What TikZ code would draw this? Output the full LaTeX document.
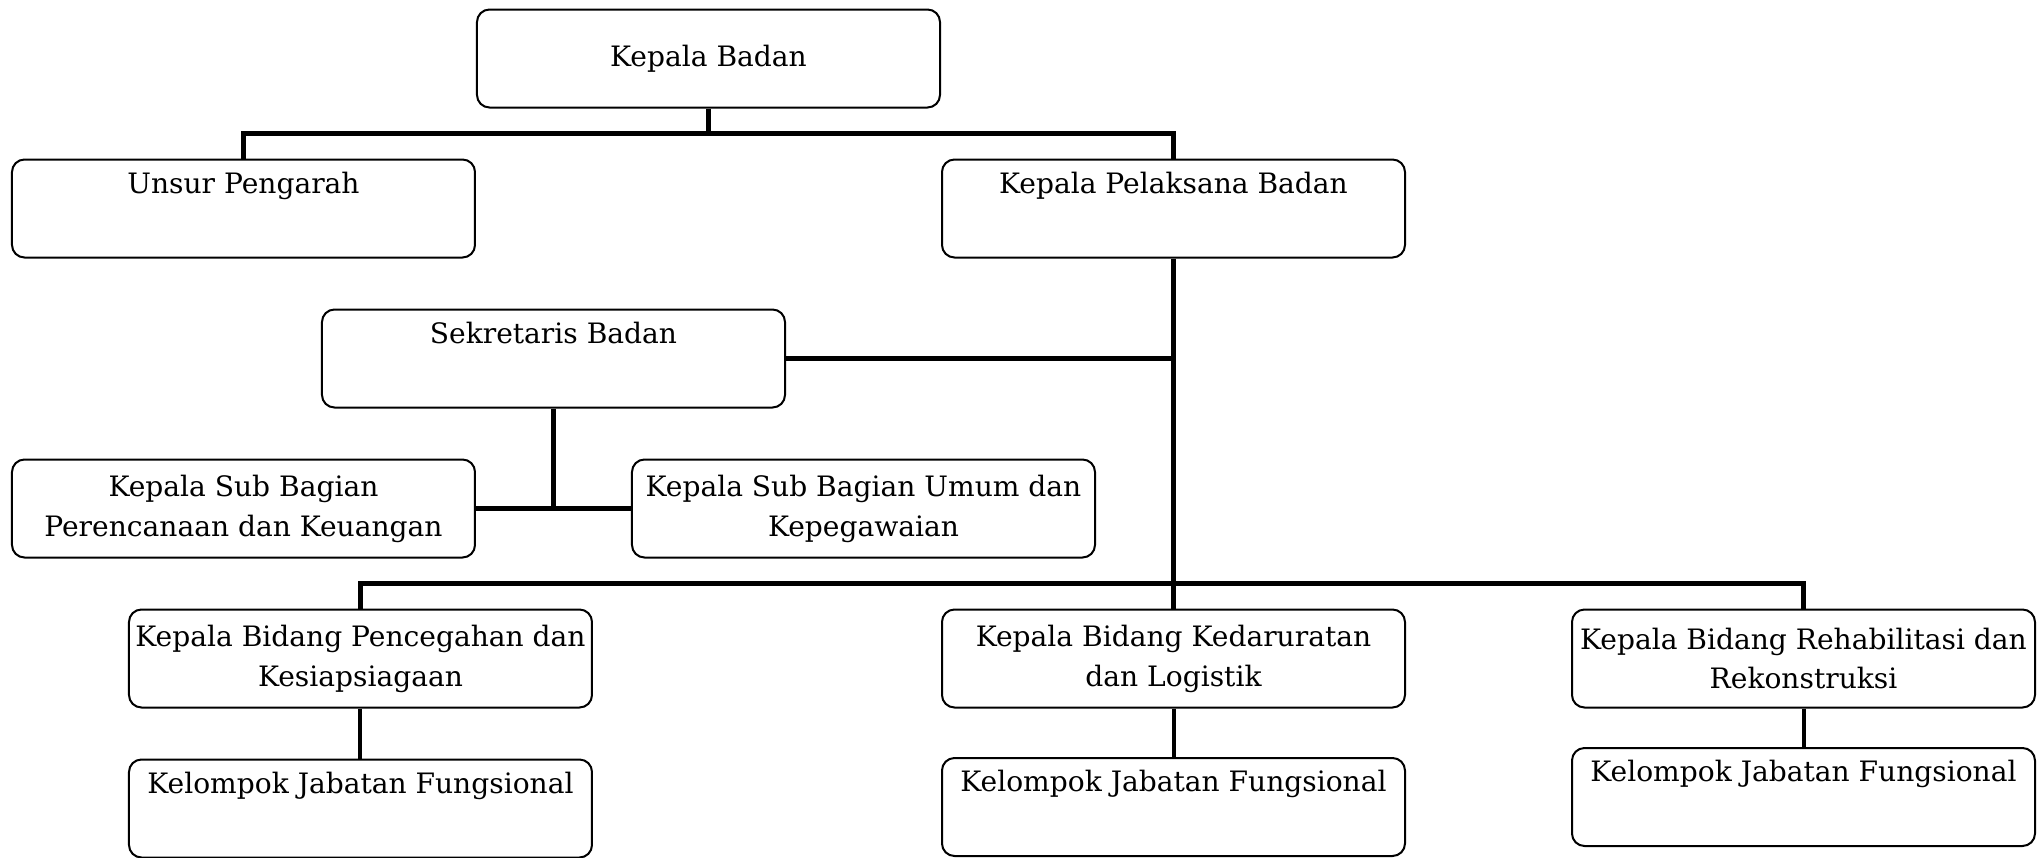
\documentclass[tikz,border=0pt]{standalone}
\usepackage{fontspec}
\setmainfont{DejaVu Serif}
\usepackage{tikz}
\usetikzlibrary{positioning}

\begin{document}
\begin{tikzpicture}[
    node distance=10mm and 0mm,
    unit/.style={draw, rounded corners=2.5mm, line width=0.4mm, minimum width=92.6mm, minimum height=19.6mm, align=center, inner sep=1mm, font=\fontsize{16}{22.7}\selectfont},
    conn/.style={line width=1mm},
    sub/.style={line width=0.8mm}
]
\useasboundingbox (-141.7mm,11.7mm) rectangle (266.5mm,-159.7mm);

\node[unit] (kb) at (0,0) {Kepala Badan};
\node[unit, below left=of kb] (up) {Unsur Pengarah\\\strut};
\node[unit, below right=of kb] (kpb) {Kepala Pelaksana Badan\\\strut};
\node[unit, below left=10mm and 31mm of kpb] (sek) {Sekretaris Badan\\\strut};
\node[unit, below=40mm of up] (sbp) {Kepala Sub Bagian\\Perencanaan dan Keuangan};
\node[unit, right=31mm of sbp] (sbu) {Kepala Sub Bagian Umum dan\\Kepegawaian};
\node[unit, below=70mm of kpb] (bk) {Kepala Bidang Kedaruratan\\dan Logistik};
\node[unit, below=10mm of sbp, xshift=23.4mm] (bp) {Kepala Bidang Pencegahan dan\\Kesiapsiagaan};
\node[unit, right=33mm of bk] (br) {Kepala Bidang Rehabilitasi dan\\Rekonstruksi};
\node[unit, below=of bp] (kf1) {Kelompok Jabatan Fungsional\\\strut};
\node[unit, below=9.7mm of bk] (kf2) {Kelompok Jabatan Fungsional\\\strut};
\node[unit, below=7.7mm of br] (kf3) {Kelompok Jabatan Fungsional\\\strut};

% top level
\draw[conn] (kb.south) -- ++(0,-5mm) coordinate (j1);
\draw[conn] (up.north) |- (j1) -| (kpb.north);

% sekretariat
\draw[conn] (sek.east) -- (sek.east -| kpb.south);
\draw[conn] (sek.south) -- (sek.south |- sbp.east);
\draw[conn] (sbp.east) -- (sbu.west);

% bidang
\draw[conn] (kpb.south) -- (bk.north);
\coordinate (j2) at ([yshift=5mm]bk.north);
\draw[conn] (bp.north) |- (j2) -| (br.north);

\draw[sub] (bp.south) -- (kf1.north);
\draw[sub] (bk.south) -- (kf2.north);
\draw[sub] (br.south) -- (kf3.north);
\end{tikzpicture}
\end{document}
